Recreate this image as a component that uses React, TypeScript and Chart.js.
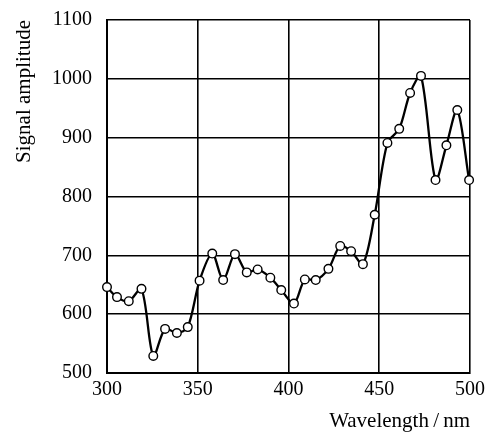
import React, { useEffect, useRef } from "react";
import { Chart, registerables } from "chart.js";

Chart.register(...registerables);

const wavelengths = [300, 305.5, 312, 319, 325.5, 332, 338.5, 344.5, 351, 358, 364, 370.5, 377, 383, 390, 396, 403, 409, 415, 422, 428.5, 434.5, 441, 447.5, 454.5, 461, 467, 473, 481, 487, 493, 499.5];
const amplitudes = [646, 629, 622, 643, 529, 575, 568, 578, 657, 703, 658, 702, 671, 676, 662, 641, 618, 659, 658, 677, 716, 707, 685, 769, 891, 915, 976, 1005, 828, 887, 947, 828];
const xTitle = "Wavelength\u2009/\u2009nm";
const yTitle = "Signal amplitude";

export default function App() {
  const ref = useRef<HTMLCanvasElement | null>(null);
  useEffect(() => {
    if (!ref.current) return;
    const font = "'Liberation Serif', 'Times New Roman', serif";
    const chart = new Chart(ref.current, {
      type: "line",
      data: {
        datasets: [
          {
            data: wavelengths.map((x, i) => ({ x, y: amplitudes[i] })),
            borderColor: "#000",
            borderWidth: 2.3,
            tension: 0.3,
            pointRadius: 4.3,
            pointBorderWidth: 1.4,
            pointBackgroundColor: "#fff",
            pointBorderColor: "#000",
            clip: false as any,
          },
        ],
      },
      options: {
        animation: false,
        responsive: false,
        maintainAspectRatio: false,
        layout: { padding: { top: 20, right: 17, left: 0, bottom: 0 } },
        plugins: { legend: { display: false }, tooltip: { enabled: false } },
        scales: {
          x: {
            type: "linear",
            min: 300,
            max: 500,
            ticks: { stepSize: 50, color: "#000", font: { family: font, size: 20 }, padding: 5, maxRotation: 0, callback: (v: any) => String(v) },
            grid: { color: "#000", lineWidth: 1.6, drawTicks: false },
            border: { color: "#000", width: 2 },
            title: { display: true, text: xTitle, align: "end", color: "#000", font: { family: font, size: 21 }, padding: { top: 0, bottom: 0 } },
            afterFit: (s: any) => { s.height = 61; s.paddingLeft = 0; s.paddingRight = 0; },
          },
          y: {
            min: 500,
            max: 1100,
            ticks: { stepSize: 100, color: "#000", font: { family: font, size: 20 }, padding: 15, callback: (v: any) => String(v) },
            grid: { color: "#000", lineWidth: 1.6, drawTicks: false },
            border: { color: "#000", width: 2 },
            title: { display: true, text: yTitle, align: "end", color: "#000", font: { family: font, size: 21 }, padding: { top: 12, bottom: 0 } },
            afterFit: (s: any) => { s.width = 107; s.paddingTop = 0; s.paddingBottom = 0; },
          },
        },
      },
    });
    return () => chart.destroy();
  }, []);
  return (
    <div style={{ position: "absolute", left: 0, top: 0, width: 487, height: 434, background: "#fff" }}>
      <canvas ref={ref} width={487} height={434} style={{ width: 487, height: 434 }} />
    </div>
  );
}
